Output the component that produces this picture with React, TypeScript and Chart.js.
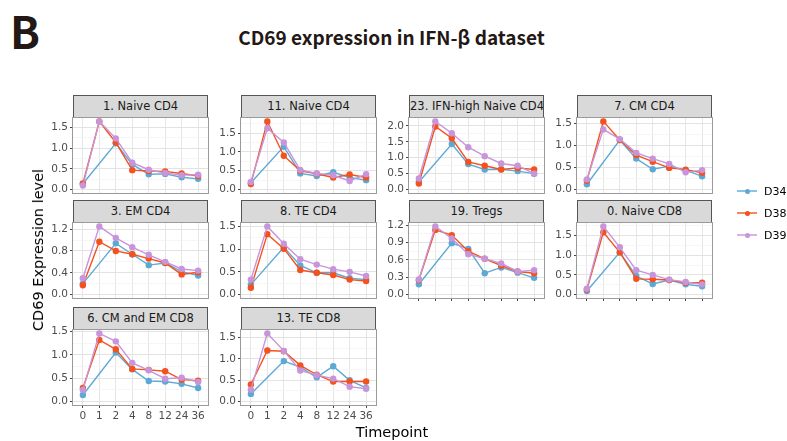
import React, { useEffect, useRef } from "react";
import { Chart, registerables } from "chart.js";
Chart.register(...registerables);

const timepoints = ["0", "1", "2", "4", "8", "12", "24", "36"];
const panelTitles = [
  "1. Naive CD4", "11. Naive CD4", "23. IFN-high Naive CD4", "7. CM CD4",
  "3. EM CD4", "8. TE CD4", "19. Tregs", "0. Naive CD8",
  "6. CM and EM CD8", "13. TE CD8",
];
const panelTickSteps = [0.5, 0.5, 0.5, 0.5, 0.4, 0.5, 0.3, 0.5, 0.5, 0.5];
const seriesNames = ["D34", "D38", "D39"];
const seriesColors = ["#5DA9D6", "#F4511E", "#C894DA"];

const d34Values: (number | null)[][] = [
  [0.14, null, 1.12, 0.61, 0.37, 0.38, 0.30, 0.26],
  [0.18, null, 1.14, 0.43, 0.36, 0.46, 0.32, 0.25],
  [0.24, null, 1.43, 0.80, 0.63, 0.64, 0.58, 0.50],
  [0.12, null, 1.12, 0.70, 0.46, 0.53, 0.44, 0.30],
  [0.20, null, 0.94, 0.74, 0.54, 0.58, 0.42, 0.35],
  [0.22, null, 1.04, 0.64, 0.48, 0.48, 0.36, 0.33],
  [0.18, null, 0.89, 0.79, 0.37, 0.47, 0.38, 0.29],
  [0.09, null, 1.07, 0.47, 0.27, 0.37, 0.26, 0.21],
  [0.14, null, 1.05, 0.69, 0.44, 0.43, 0.38, 0.29],
  [0.18, null, 0.95, 0.81, 0.57, 0.83, 0.50, 0.32],
];
const d38Values: (number | null)[][] = [
  [0.15, 1.65, 1.14, 0.47, 0.45, 0.44, 0.39, 0.33],
  [0.15, 1.81, 0.90, 0.50, 0.42, 0.32, 0.40, 0.32],
  [0.19, 1.98, 1.61, 0.87, 0.75, 0.63, 0.68, 0.63],
  [0.20, 1.54, 1.12, 0.78, 0.63, 0.49, 0.45, 0.38],
  [0.17, 0.97, 0.80, 0.74, 0.66, 0.58, 0.37, 0.41],
  [0.15, 1.33, 1.01, 0.54, 0.48, 0.43, 0.33, 0.30],
  [0.25, 1.12, 1.03, 0.75, 0.62, 0.50, 0.40, 0.37],
  [0.13, 1.58, 1.07, 0.40, 0.39, 0.37, 0.30, 0.30],
  [0.29, 1.32, 1.12, 0.70, 0.68, 0.65, 0.47, 0.45],
  [0.40, 1.20, 1.18, 0.85, 0.63, 0.47, 0.47, 0.47],
];
const d39Values: (number | null)[][] = [
  [0.10, 1.65, 1.24, 0.65, 0.48, 0.40, 0.35, 0.36],
  [0.20, 1.63, 1.25, 0.52, 0.43, 0.38, 0.23, 0.41],
  [0.35, 2.14, 1.77, 1.33, 1.05, 0.82, 0.75, 0.50],
  [0.23, 1.36, 1.14, 0.83, 0.70, 0.58, 0.39, 0.44],
  [0.30, 1.25, 1.04, 0.87, 0.73, 0.60, 0.47, 0.44],
  [0.33, 1.50, 1.12, 0.78, 0.66, 0.56, 0.50, 0.41],
  [0.26, 1.18, 0.97, 0.70, 0.62, 0.54, 0.40, 0.42],
  [0.15, 1.73, 1.20, 0.62, 0.50, 0.38, 0.32, 0.26],
  [0.25, 1.46, 1.29, 0.83, 0.67, 0.49, 0.51, 0.42],
  [0.28, 1.60, 1.19, 0.73, 0.62, 0.54, 0.35, 0.30],
];

const colLeft = [73, 241, 409, 577];
const rowTop = [95, 200, 307];
const plotW = 135;
const stripH = 23;
const plotH = 75;
const yAxisW = 40;
const padTop = 12;
const padRight = 10;
const padBottom = 12;
const FONT = "'DejaVu Sans', sans-serif";

const borderPlugin = {
  id: "panelBorder",
  afterDraw(chart: any) {
    const { left, top, right, bottom } = chart.chartArea;
    const ctx = chart.ctx;
    ctx.save();
    ctx.strokeStyle = "#9a9a9a";
    ctx.lineWidth = 1;
    ctx.strokeRect(Math.round(left) - 0.5, Math.round(top) - 0.5, Math.round(right - left) + 1, Math.round(bottom - top) + 1);
    ctx.restore();
  },
};

function Panel({ idx }: { idx: number }) {
  const ref = useRef<HTMLCanvasElement>(null);
  const col = idx % 4;
  const row = Math.floor(idx / 4);
  const xMode = row === 2 ? "labels" : row === 1 && col >= 2 ? "ticks" : "none";
  const xAxisH = xMode === "labels" ? 22 : xMode === "ticks" ? 4 : 1;
  const cw = yAxisW + plotW + padRight;
  const ch = padTop + plotH + xAxisH + padBottom;

  useEffect(() => {
    if (!ref.current) return;
    const series = [d34Values[idx], d38Values[idx], d39Values[idx]];
    let m = 0;
    series.forEach((s) => s.forEach((v) => { if (v != null && v > m) m = v; }));
    const yMax = m * 1.05;
    const yMin = -m * 0.05;
    const step = panelTickSteps[idx];
    const half = step / 2;
    const yTicks: number[] = [];
    for (let k = 0; k * half <= yMax + 1e-9; k++) yTicks.push(+(k * half).toFixed(4));
    const isMajor = (v: number) => Math.round(v / half) % 2 === 0;

    const chart = new Chart(ref.current, {
      type: "line",
      data: {
        datasets: series.map((s, si) => ({
          label: seriesNames[si],
          data: s.map((v, i) => ({ x: i, y: v })),
          borderColor: seriesColors[si],
          backgroundColor: seriesColors[si],
          borderWidth: 1.4,
          pointRadius: 3.2,
          pointBorderWidth: 0,
          spanGaps: true,
          clip: false as any,
          order: 2 - si,
        })),
      },
      options: {
        responsive: false,
        animation: false,
        layout: { padding: { top: padTop, right: padRight, left: 0, bottom: padBottom } },
        plugins: { legend: { display: false }, tooltip: { enabled: false } },
        scales: {
          x: {
            type: "linear",
            min: -0.6,
            max: 7.6,
            afterBuildTicks: (scale: any) => {
              scale.ticks = timepoints.map((_, i) => ({ value: i }));
            },
            afterFit: (scale: any) => { scale.height = xAxisH; },
            border: { display: false },
            grid: {
              color: "#e6e6e6",
              lineWidth: 1,
              drawTicks: xMode !== "none",
              tickLength: 3,
              tickColor: "#444",
            },
            ticks: {
              display: xMode === "labels",
              autoSkip: false,
              maxRotation: 0,
              padding: 2,
              color: "#4d4d4d",
              font: { family: FONT, size: 10.5 },
              callback: (v: any) => timepoints[Math.round(Number(v))],
            },
          },
          y: {
            type: "linear",
            min: yMin,
            max: yMax,
            afterBuildTicks: (scale: any) => {
              scale.ticks = yTicks.map((v) => ({ value: v }));
            },
            afterFit: (scale: any) => { scale.width = yAxisW; },
            border: { display: false },
            grid: {
              color: (c: any) => (c.tick && isMajor(c.tick.value) ? "#e3e3e3" : "#f2f2f2"),
              lineWidth: (c: any) => (c.tick && isMajor(c.tick.value) ? 1 : 0.7),
              drawTicks: true,
              tickLength: 3,
              tickColor: (c: any) => (c.tick && isMajor(c.tick.value) ? "#444" : "rgba(0,0,0,0)"),
            },
            ticks: {
              autoSkip: false,
              padding: 2,
              color: "#4d4d4d",
              font: { family: FONT, size: 10.5 },
              callback: (v: any) => (isMajor(Number(v)) ? Number(v).toFixed(1) : ""),
            },
          },
        },
      },
      plugins: [borderPlugin],
    } as any);
    return () => chart.destroy();
  }, [idx]);

  const left = colLeft[col];
  const top = rowTop[row];
  return (
    <>
      <div
        style={{
          position: "absolute",
          left,
          top,
          width: plotW,
          height: stripH,
          boxSizing: "border-box",
          background: "#d9d9d9",
          border: "1px solid #555",
          color: "#1a1a1a",
          font: `11.5px ${FONT}`,
          lineHeight: `${stripH - 2}px`,
          textAlign: "center",
          whiteSpace: "nowrap",
          overflow: "hidden",
        }}
      >
        {panelTitles[idx]}
      </div>
      <canvas
        ref={ref}
        width={cw}
        height={ch}
        style={{ position: "absolute", left: left - yAxisW, top: top + stripH - padTop, width: cw, height: ch }}
      />
    </>
  );
}

export default function App() {
  const legendY = [191, 213, 235];
  return (
    <div style={{ position: "absolute", left: 0, top: 0, width: 787, height: 441, background: "#fff", overflow: "hidden" }}>
      <div style={{ position: "absolute", left: 10, top: 4, font: "bold 44px 'Noto Sans CJK SC', sans-serif", color: "#231815", lineHeight: "52px" }}>B</div>
      <div style={{ position: "absolute", left: 0, width: 787, top: 25, textAlign: "center", font: "bold 19px 'Noto Sans CJK SC', sans-serif", color: "#231815", lineHeight: "24px" }}>
        <span style={{ position: "relative", left: -2 }}>CD69 expression in IFN-β dataset</span>
      </div>
      {panelTitles.map((_, i) => <Panel key={i} idx={i} />)}
      <div style={{ position: "absolute", left: 38, top: 250, transform: "translate(-50%, -50%) rotate(-90deg)", whiteSpace: "nowrap", font: `14.5px ${FONT}`, color: "#000" }}>
        CD69 Expression level
      </div>
      <div style={{ position: "absolute", left: 392, top: 432, transform: "translate(-50%, -50%)", whiteSpace: "nowrap", font: `14.5px ${FONT}`, color: "#000" }}>
        Timepoint
      </div>
      {seriesNames.map((n, i) => (
        <React.Fragment key={n}>
          <div style={{ position: "absolute", left: 737, top: legendY[i] - 0.75, width: 20, height: 1.5, background: seriesColors[i], opacity: 0.7 }} />
          <div style={{ position: "absolute", left: 744.5, top: legendY[i] - 2.5, width: 5, height: 5, borderRadius: "50%", background: seriesColors[i] }} />
          <div style={{ position: "absolute", left: 764, top: legendY[i], transform: "translateY(-50%)", font: `11px ${FONT}`, color: "#000", whiteSpace: "nowrap" }}>{n}</div>
        </React.Fragment>
      ))}
    </div>
  );
}
